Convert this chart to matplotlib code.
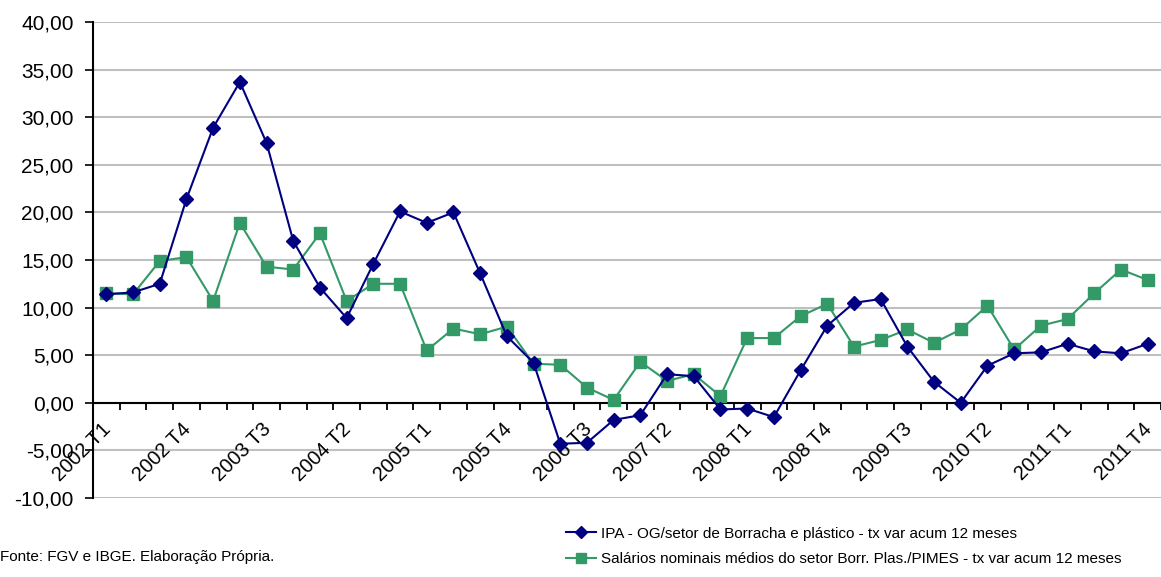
import matplotlib
matplotlib.use("Agg")
import matplotlib.pyplot as plt
import matplotlib.transforms as mtransforms
from matplotlib.lines import Line2D
from matplotlib.ticker import FuncFormatter

plt.rcParams["font.family"] = ["Liberation Sans", "DejaVu Sans"]
plt.rcParams["axes.unicode_minus"] = False

# Quarters 2002 T1 .. 2011 T4
years = list(range(2002, 2012))
quarters = [f"{y} T{q}" for y in years for q in (1, 2, 3, 4)]

ipa = [11.4, 11.6, 12.5, 21.4, 28.9, 33.7, 27.3, 17.0, 12.1, 8.9,
       14.6, 20.1, 18.9, 20.0, 13.6, 7.0, 4.2, -4.3, -4.2, -1.8,
       -1.3, 3.0, 2.8, -0.7, -0.6, -1.5, 3.4, 8.1, 10.5, 10.9,
       5.9, 2.2, 0.0, 3.9, 5.2, 5.3, 6.2, 5.4, 5.2, 6.2]

salarios = [11.5, 11.4, 14.9, 15.3, 10.7, 18.9, 14.3, 14.0, 17.8, 10.7,
            12.5, 12.5, 5.5, 7.8, 7.2, 8.0, 4.1, 4.0, 1.6, 0.3,
            4.3, 2.3, 3.0, 0.7, 6.8, 6.8, 9.1, 10.4, 5.9, 6.6,
            7.7, 6.3, 7.7, 10.2, 5.6, 8.1, 8.8, 11.5, 14.0, 12.9]

label_ipa = "IPA - OG/setor de Borracha e plástico - tx var acum 12 meses"
label_sal = "Salários nominais médios do setor Borr. Plas./PIMES - tx var acum 12 meses"
source = "Fonte: FGV e IBGE. Elaboração Própria."

W, H = 1161, 577
fig = plt.figure(figsize=(W / 100, H / 100), dpi=100)
ax = fig.add_axes([93 / W, 1 - 498 / H, (W - 93) / W, (498 - 22) / H])

x = list(range(len(quarters)))
blue = "#000080"
green = "#339966"

ax.plot(x, ipa, color=blue, lw=1.5, marker="D", ms=7.5, mec=blue, mfc=blue,
        zorder=4)
ax.plot(x, salarios, color=green, lw=1.5, marker="s", ms=9, mec=green, mfc=green,
        zorder=3)

ax.set_xlim(-0.5, len(quarters) - 0.5)
ax.set_ylim(-10, 40)

# y axis with comma decimals
ax.set_yticks(range(-10, 41, 5))
ax.yaxis.set_major_formatter(FuncFormatter(lambda v, p: f"{v:.2f}".replace(".", ",")))
ax.tick_params(axis="y", direction="out", length=5.5, width=1.2, pad=8.5,
               labelsize=15, colors="black")
ax.grid(axis="y", color="#c0c0c0", lw=1.5, zorder=0)
ax.set_axisbelow(True)

for s in ("top", "right", "bottom"):
    ax.spines[s].set_visible(False)
ax.spines["left"].set_linewidth(1.5)
ax.set_xticks([])

# category axis drawn along zero, tick marks between categories
ax.axhline(0, color="black", lw=1.5, zorder=2)
tick_pos = [i - 0.5 for i in range(len(quarters) + 1)]
ax.add_line(Line2D(tick_pos, [0] * len(tick_pos), lw=0, color="black",
                   marker=3, ms=4.8, mew=1.3, mec="black", zorder=2))

offset = mtransforms.ScaledTranslation(-5 / 100, -17 / 100, fig.dpi_scale_trans)
for i in range(0, len(quarters), 3):
    ax.text(i, 0, quarters[i], rotation=45, rotation_mode="anchor",
            ha="right", va="top", fontsize=14.5,
            transform=ax.transData + offset, zorder=1)

# legend and source note
handles = [Line2D([], [], color=blue, lw=1.5, marker="D", ms=6, mfc=blue, mec=blue),
           Line2D([], [], color=green, lw=1.5, marker="s", ms=6.5, mfc=green, mec=green)]
fig.legend(handles, [label_ipa, label_sal], loc="center left",
           bbox_to_anchor=(558 / W, 1 - 546.5 / H), frameon=False, fontsize=11,
           handlelength=2.0, handletextpad=0.3, labelspacing=0.78, borderpad=0)

fig.text(0, 1 - 557 / H, source, ha="left", va="center", fontsize=11)

fig.savefig("out.png", dpi=100)
